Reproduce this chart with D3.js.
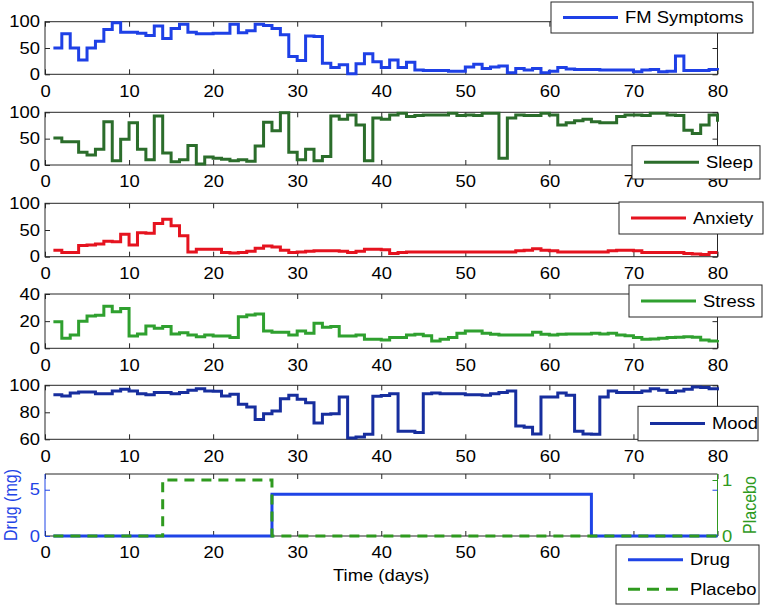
<!DOCTYPE html>
<html>
<head>
<meta charset="utf-8">
<script src="https://cdn.jsdelivr.net/npm/d3@7"></script>
<style>
  body { margin: 0; background: #fff; }
  svg text { font-family: "Liberation Sans", Arial, Helvetica, sans-serif; }
</style>
</head>
<body>
<svg id="chart" width="767" height="605"></svg>
<script>
// daily scores, days 1..80
var days = d3.range(1, 81);
var xTicks = [0, 10, 20, 30, 40, 50, 60, 70, 80];
var xTicksShownBottom = [0, 10, 20, 30, 40, 50, 60];   // 70 and 80 sit under the legend

var fmSymptoms = [50,77,50,27,50,63,85,98,80,80, 78,74,92,68,87,95,80,77,77,78,
                  78,95,79,83,95,93,87,75,34,26, 73,72,21,13,18,1,20,39,24,13,
                  27,13,23,8,7,7,7,6,6,14, 19,11,14,16,3,11,8,11,3,6,
                  13,10,9,9,9,8,8,8,8,5, 8,9,5,6,35,7,7,7,9,8];
var sleep = [51,44,44,24,19,30,82,8,49,80, 30,10,93,23,6,10,37,2,15,13,
             11,8,10,7,36,81,65,99,24,10, 30,8,16,93,87,95,76,8,89,87,
             95,98,92,94,95,95,95,98,94,95, 94,98,98,13,89,95,94,94,98,95,
             76,80,84,87,82,80,80,92,95,95, 94,98,98,95,94,66,60,76,95,82];
var anxiety = [12,8,8,21,22,24,29,28,42,22, 45,44,62,70,58,39,9,14,14,14,
               8,7,8,10,16,20,18,12,8,9, 10,11,11,11,10,8,10,14,14,13,
               6,8,9,9,9,9,9,9,9,9, 9,9,9,9,9,11,12,15,12,11,
               9,9,9,9,9,9,11,12,12,11, 8,8,8,8,8,6,5,4,8,8];
var stress = [19.6,7.4,9.8,20,23.8,24.3,31,27,29.4,9, 10.5,16.4,14.7,16,10.5,11.5,9.8,8.6,9.8,9,
              9,7.9,23.3,24.5,25.3,12.8,11.8,11.8,9.8,12.8, 11,18.4,15.5,16,9,9,9.8,6.6,6.6,6.1,
              7.9,8,9.8,10.3,9.3,5.4,6.6,8,11,12.8, 12.8,11,10.3,9.8,9.8,9.8,9.8,11.8,10.3,9.8,
              10.3,10.5,10.5,10.5,11,10.5,11,9.8,9.3,7.9, 6.6,6.9,7.4,7.9,8.1,8.6,8.1,6.1,5.4,6.1];
var mood = [93,92,94.3,95,95,93.8,93.8,95.8,97,95.8, 93.8,93,94.6,94.6,93.8,94.6,96.3,97.5,95.8,95.6,
            92,93.3,86,84,74.6,79,81,90,92.6,89.6, 87,72,78.5,79,91.4,61,61.7,63.7,91.9,92.5,
            93.8,66,66,65,93.8,94.3,93.8,93.8,93.8,93, 93,92.6,93.8,94.6,95.8,69.9,69,64,91.4,91.4,
            94.3,92.6,66,64,63.7,91.4,95.8,94.6,94.6,94.6, 95.8,97.5,96.3,94.6,95.8,97,98.8,98.3,97.5,96.3];

// treatment periods (change points)
var drugDays = [1, 27, 65, 80], drugDose = [0, 4.5, 0, 0];
var placeboDays = [1, 14, 27, 80], placeboOn = [0, 1, 0, 0];

var left = 45, right = 717.5, FS = 16, SX = 1.15, axisColor = '#262626';
var svg = d3.select('#chart');
var x = d3.scaleLinear().domain([0, 80]).range([left, right]);
var fmtInt = d3.format('d');

var panels = [
  {name: 'FM Symptoms', values: fmSymptoms, color: '#1e40e6', top: 21.7, bottom: 74.3,
   domain: [0, 100], ticks: [0, 50, 100], leg: {x: 551, y: 2, w: 202, h: 31}},
  {name: 'Sleep', values: sleep, color: '#2b6d2b', top: 112.3, bottom: 165,
   domain: [0, 100], ticks: [0, 50, 100], leg: {x: 632, y: 145.7, w: 128, h: 33.3}},
  {name: 'Anxiety', values: anxiety, color: '#e5131f', top: 203.3, bottom: 256.7,
   domain: [0, 100], ticks: [0, 50, 100], leg: {x: 619, y: 202, w: 144, h: 32}},
  {name: 'Stress', values: stress, color: '#2fa02f', top: 294, bottom: 348.3,
   domain: [0, 40], ticks: [0, 20, 40], leg: {x: 629, y: 285, w: 133, h: 32}},
  {name: 'Mood', values: mood, color: '#172e9e', top: 385.3, bottom: 439.3,
   domain: [60, 100], ticks: [60, 80, 100], leg: {x: 638, y: 406.3, w: 120, h: 34.5}}
];

function stretch(sel) {
  sel.style('font-size', FS + 'px').attr('transform', 'scale(' + SX + ',1)');
}

function frame(top, bottom, shown) {
  var g = svg.append('g');
  g.append('g').attr('transform', 'translate(0,' + bottom + ')')
    .call(d3.axisBottom(x).tickValues(xTicks).tickSize(-5).tickPadding(11)
      .tickFormat(function(d) { return shown.indexOf(d) >= 0 ? fmtInt(d) : ''; }))
    .call(function(a) { a.select('.domain').remove(); a.selectAll('line').attr('stroke', axisColor);
      a.selectAll('text').attr('fill', '#000').call(stretch); });
  g.append('g').attr('transform', 'translate(0,' + top + ')')
    .call(d3.axisTop(x).tickValues(xTicks).tickSize(-5).tickFormat(''))
    .call(function(a) { a.select('.domain').remove(); a.selectAll('line').attr('stroke', axisColor); });
  return g;
}

function yAxes(g, y, ticks, color, labelColor) {
  g.append('g').attr('transform', 'translate(' + left + ',0)')
    .call(d3.axisLeft(y).tickValues(ticks).tickSize(-5).tickPadding(5 / SX).tickFormat(fmtInt))
    .call(function(a) { a.select('.domain').remove(); a.selectAll('line').attr('stroke', color);
      a.selectAll('text').attr('fill', labelColor).call(stretch); });
  g.append('g').attr('transform', 'translate(' + right + ',0)')
    .call(d3.axisRight(y).tickValues(ticks).tickSize(-5).tickFormat(''))
    .call(function(a) { a.select('.domain').remove(); a.selectAll('line').attr('stroke', color); });
}

function legend(box, items) {
  var g = svg.append('g');
  g.append('rect').attr('x', box.x).attr('y', box.y).attr('width', box.w).attr('height', box.h)
    .attr('fill', '#fff').attr('stroke', axisColor).attr('stroke-width', 1);
  var step = box.h / items.length;
  items.forEach(function(it, i) {
    var cy = box.y + step * (i + 0.5);
    g.append('line').attr('x1', box.x + 12).attr('x2', box.x + 67).attr('y1', cy).attr('y2', cy)
      .attr('stroke', it.color).attr('stroke-width', 3).attr('stroke-dasharray', it.dash || null);
    g.append('text').attr('x', (box.x + 74) / SX).attr('y', cy + 0.35 * FS).text(it.name)
      .call(stretch);
  });
}

var line = function(xs, y) {
  return d3.line().x(function(d, i) { return x(xs[i]); }).y(function(d) { return y(d); }).curve(d3.curveStepAfter);
};

panels.forEach(function(p) {
  var y = d3.scaleLinear().domain(p.domain).range([p.bottom, p.top]);
  var g = frame(p.top, p.bottom, xTicks);
  yAxes(g, y, p.ticks, axisColor, '#000');
  g.append('rect').attr('x', left).attr('y', p.top).attr('width', right - left).attr('height', p.bottom - p.top)
    .attr('fill', 'none').attr('stroke', axisColor).attr('stroke-width', 1);
  g.append('path').datum(p.values).attr('d', line(days, y))
    .attr('fill', 'none').attr('stroke', p.color).attr('stroke-width', 3).attr('stroke-linejoin', 'miter');
  legend(p.leg, [{name: p.name, color: p.color}]);
});

/* bottom panel: drug dose and placebo on two y axes */
var dTop = 474, dBottom = 536, drugColor = '#1f44e6', placeboColor = '#2f9a1f';
var yDrug = d3.scaleLinear().domain([0, 6.7]).range([dBottom, dTop]);
var yPlacebo = d3.scaleLinear().domain([0, 1.107]).range([dBottom, dTop]);
var g6 = frame(dTop, dBottom, xTicksShownBottom);
g6.append('line').attr('x1', left).attr('x2', right).attr('y1', dTop).attr('y2', dTop).attr('stroke', axisColor);
g6.append('line').attr('x1', left).attr('x2', right).attr('y1', dBottom).attr('y2', dBottom).attr('stroke', axisColor);
g6.append('line').attr('x1', left).attr('x2', left).attr('y1', dTop).attr('y2', dBottom).attr('stroke', drugColor);
g6.append('line').attr('x1', right).attr('x2', right).attr('y1', dTop).attr('y2', dBottom).attr('stroke', placeboColor);
yAxes(g6, yDrug, [0, 5], drugColor, drugColor);
g6.append('g').attr('transform', 'translate(' + right + ',0)')
  .call(d3.axisRight(yPlacebo).tickValues([0, 1]).tickSize(-5).tickPadding(4).tickFormat(fmtInt))
  .call(function(a) { a.select('.domain').remove(); a.selectAll('line').attr('stroke', placeboColor);
    a.selectAll('text').attr('fill', placeboColor).call(stretch); });

g6.append('path').datum(drugDose).attr('d', line(drugDays, yDrug))
  .attr('fill', 'none').attr('stroke', drugColor).attr('stroke-width', 3);
g6.append('path').datum(placeboOn).attr('d', line(placeboDays, yPlacebo))
  .attr('fill', 'none').attr('stroke', placeboColor).attr('stroke-width', 3).attr('stroke-dasharray', '10,7');

svg.append('text').attr('transform', 'translate(' + ((left + right) / 2) + ',581) scale(' + SX + ',1)')
  .attr('text-anchor', 'middle').style('font-size', FS + 'px').text('Time (days)');
svg.append('text').attr('transform', 'translate(17,' + ((dTop + dBottom) / 2) + ') rotate(-90) scale(1,' + SX + ')')
  .attr('text-anchor', 'middle').attr('fill', drugColor).style('font-size', FS + 'px').text('Drug (mg)');
svg.append('text').attr('transform', 'translate(756,' + ((dTop + dBottom) / 2) + ') rotate(-90) scale(1,' + SX + ')')
  .attr('text-anchor', 'middle').attr('fill', placeboColor).style('font-size', FS + 'px').text('Placebo');

legend({x: 616, y: 545, w: 143, h: 59}, [
  {name: 'Drug', color: drugColor},
  {name: 'Placebo', color: placeboColor, dash: '12,7'}
]);
</script>
</body>
</html>
